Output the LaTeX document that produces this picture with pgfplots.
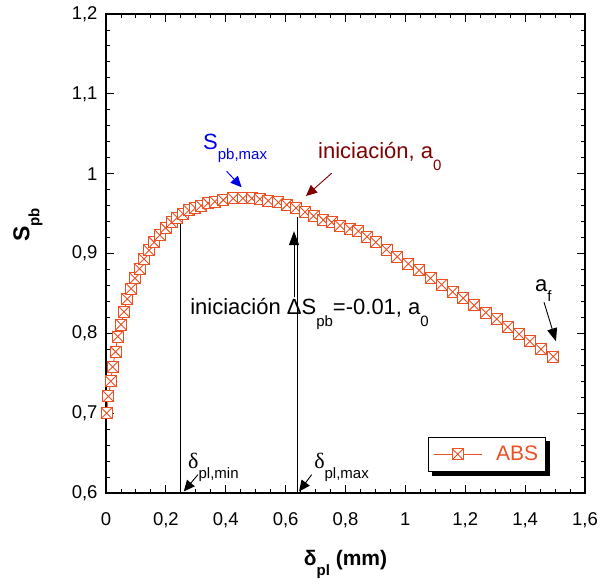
\documentclass[border=0pt]{standalone}
\usepackage{fontspec}
\setmainfont{Liberation Sans}
\newfontfamily\symf{Liberation Serif}
\usepackage{pgfplots}
\pgfplotsset{compat=1.18}
\usetikzlibrary{arrows.meta}
\pgfdeclarelayer{background}
\pgfsetlayers{background,main}
\definecolor{absc}{RGB}{235,80,35}
\definecolor{blu}{RGB}{0,0,230}
\definecolor{dred}{RGB}{128,0,0}
\pgfdeclareplotmark{boxx}{%
  \pgfpathrectangle{\pgfpoint{-\pgfplotmarksize}{-\pgfplotmarksize}}{\pgfpoint{2\pgfplotmarksize}{2\pgfplotmarksize}}%
  \pgfusepathqfillstroke
  \pgfpathmoveto{\pgfpoint{-\pgfplotmarksize}{-\pgfplotmarksize}}%
  \pgfpathlineto{\pgfpoint{\pgfplotmarksize}{\pgfplotmarksize}}%
  \pgfpathmoveto{\pgfpoint{-\pgfplotmarksize}{\pgfplotmarksize}}%
  \pgfpathlineto{\pgfpoint{\pgfplotmarksize}{-\pgfplotmarksize}}%
  \pgfusepathqstroke
}
\newcommand\sub[2][11bp]{\raisebox{-#1}{\fontsize{15bp}{15bp}\selectfont #2}}
\pgfplotstableread{
x y
0.002 0.700
0.008 0.721
0.016 0.740
0.022 0.758
0.032 0.777
0.039 0.796
0.050 0.811
0.060 0.827
0.071 0.843
0.084 0.856
0.097 0.869
0.112 0.881
0.127 0.893
0.144 0.904
0.161 0.914
0.180 0.923
0.199 0.932
0.219 0.939
0.238 0.945
0.257 0.950
0.277 0.954
0.298 0.957
0.318 0.960
0.341 0.963
0.364 0.965
0.392 0.967
0.425 0.969
0.457 0.969
0.487 0.969
0.514 0.968
0.542 0.966
0.576 0.964
0.604 0.961
0.635 0.957
0.665 0.952
0.693 0.947
0.726 0.942
0.754 0.939
0.782 0.935
0.815 0.931
0.843 0.928
0.872 0.921
0.901 0.914
0.937 0.905
0.973 0.896
1.010 0.887
1.046 0.879
1.084 0.869
1.121 0.861
1.158 0.852
1.193 0.844
1.230 0.835
1.269 0.826
1.305 0.818
1.342 0.808
1.380 0.799
1.416 0.790
1.453 0.780
1.494 0.771
}\datatable
\begin{document}
\begin{tikzpicture}
\useasboundingbox (-106bp,-94bp) rectangle (504bp,493bp);
\begin{axis}[
  at={(0,0)}, anchor=south west, scale only axis,
  width=479bp, height=479bp,
  xmin=0, xmax=1.6, ymin=0.6, ymax=1.2,
  xtick distance=0.2, ytick distance=0.1,
  minor x tick num=3, minor y tick num=4,
  tick align=inside,
  major tick length=8bp, minor tick length=4bp,
  axis line style={line width=1.2bp},
  every tick/.style={black, line width=0.9bp},
  /pgf/number format/assume math mode=true,
  /pgf/number format/use comma,
  /pgf/number format/fixed,
  tick label style={font=\fontsize{18.5bp}{20bp}\selectfont},
  xticklabel style={yshift=-16bp},
  yticklabel style={xshift=-5bp},
  clip=false,
  legend style={name=leg, at={(rel axis cs:0.918,0.044)}, anchor=south east,
    draw=black, line width=1.2bp, fill=white,
    font=\fontsize{21bp}{23bp}\selectfont, text=absc,
    inner xsep=5bp, inner ysep=7bp},
  legend cell align=left,
  /tikz/every odd column/.append style={column sep=12bp},
  legend image code/.code={\draw[line width=0.9bp, mark repeat=2,mark phase=2] plot coordinates {(0bp,0bp) (24bp,0bp) (48bp,0bp)};},
]
\draw[black, line width=0.8bp] (axis cs:0.25,0.6) -- (axis cs:0.25,0.938);
\draw[black, line width=0.8bp] (axis cs:0.64,0.6) -- (axis cs:0.64,0.946);
\addplot[color=absc, line width=0.9bp, mark=boxx, mark size=5.5bp,
  mark options={fill=white, line width=0.9bp}] table[x=x,y=y] {\datatable};
\addlegendentry{ABS}
% annotations
\node[anchor=base west, text=blu, font=\fontsize{22bp}{24bp}\selectfont, inner sep=0] at (axis cs:0.324,1.030) {S\sub[10bp]{pb,max}};
\draw[blu, line width=1bp, -{Triangle[length=11bp,width=10bp]}] (axis cs:0.403,1.003) -- (axis cs:0.453,0.983);
\node[anchor=base west, text=dred, font=\fontsize{22bp}{24bp}\selectfont, inner sep=0] at (axis cs:0.708,1.0185) {iniciación, a\sub[12bp]{0}};
\draw[dred, line width=0.9bp, -{Triangle[length=11bp,width=10bp]}] (axis cs:0.754,1.0006) -- (axis cs:0.668,0.972);
\node[anchor=base west, text=black, font=\fontsize{22bp}{24bp}\selectfont, inner sep=0] at (axis cs:0.281,0.823) {iniciación ΔS\sub[12bp]{pb}=-0.01, a\sub[12bp]{0}};
\draw[black, line width=0.9bp, -{Triangle[length=14bp,width=10bp]}] (axis cs:0.628,0.845) -- (axis cs:0.628,0.928);
\node[anchor=base west, font=\fontsize{22bp}{24bp}\selectfont, inner sep=0] at (axis cs:0.274,0.631) {{\symf δ}\sub[10bp]{pl,min}};
\draw[black, line width=0.9bp, -{Triangle[length=11bp,width=10bp]}] (axis cs:0.307,0.623) -- (axis cs:0.260,0.602);
\node[anchor=base west, font=\fontsize{22bp}{24bp}\selectfont, inner sep=0] at (axis cs:0.695,0.631) {{\symf δ}\sub[10bp]{pl,max}};
\draw[black, line width=0.9bp, -{Triangle[length=11bp,width=10bp]}] (axis cs:0.687,0.623) -- (axis cs:0.645,0.602);
\node[anchor=base west, font=\fontsize{22bp}{24bp}\selectfont, inner sep=0] at (axis cs:1.433,0.852) {a\sub[10bp]{f}};
\draw[black, line width=0.9bp, -{Triangle[length=13bp,width=10bp]}] (axis cs:1.463,0.839) -- (axis cs:1.503,0.790);
% axis labels
\node[rotate=90, font=\bfseries\fontsize{23bp}{24bp}\selectfont] at (rel axis cs:-0.163,0.56) {S\sub[10bp]{pb}};
\node[font=\bfseries\fontsize{21bp}{24bp}\selectfont] at (rel axis cs:0.5,-0.15) {δ\sub[10bp]{pl} (mm)};
\end{axis}
\begin{pgfonlayer}{background}
\fill[black] ([xshift=4bp,yshift=-4bp]leg.south west) rectangle ([xshift=4bp,yshift=-4bp]leg.north east);
\end{pgfonlayer}
\end{tikzpicture}
\end{document}
